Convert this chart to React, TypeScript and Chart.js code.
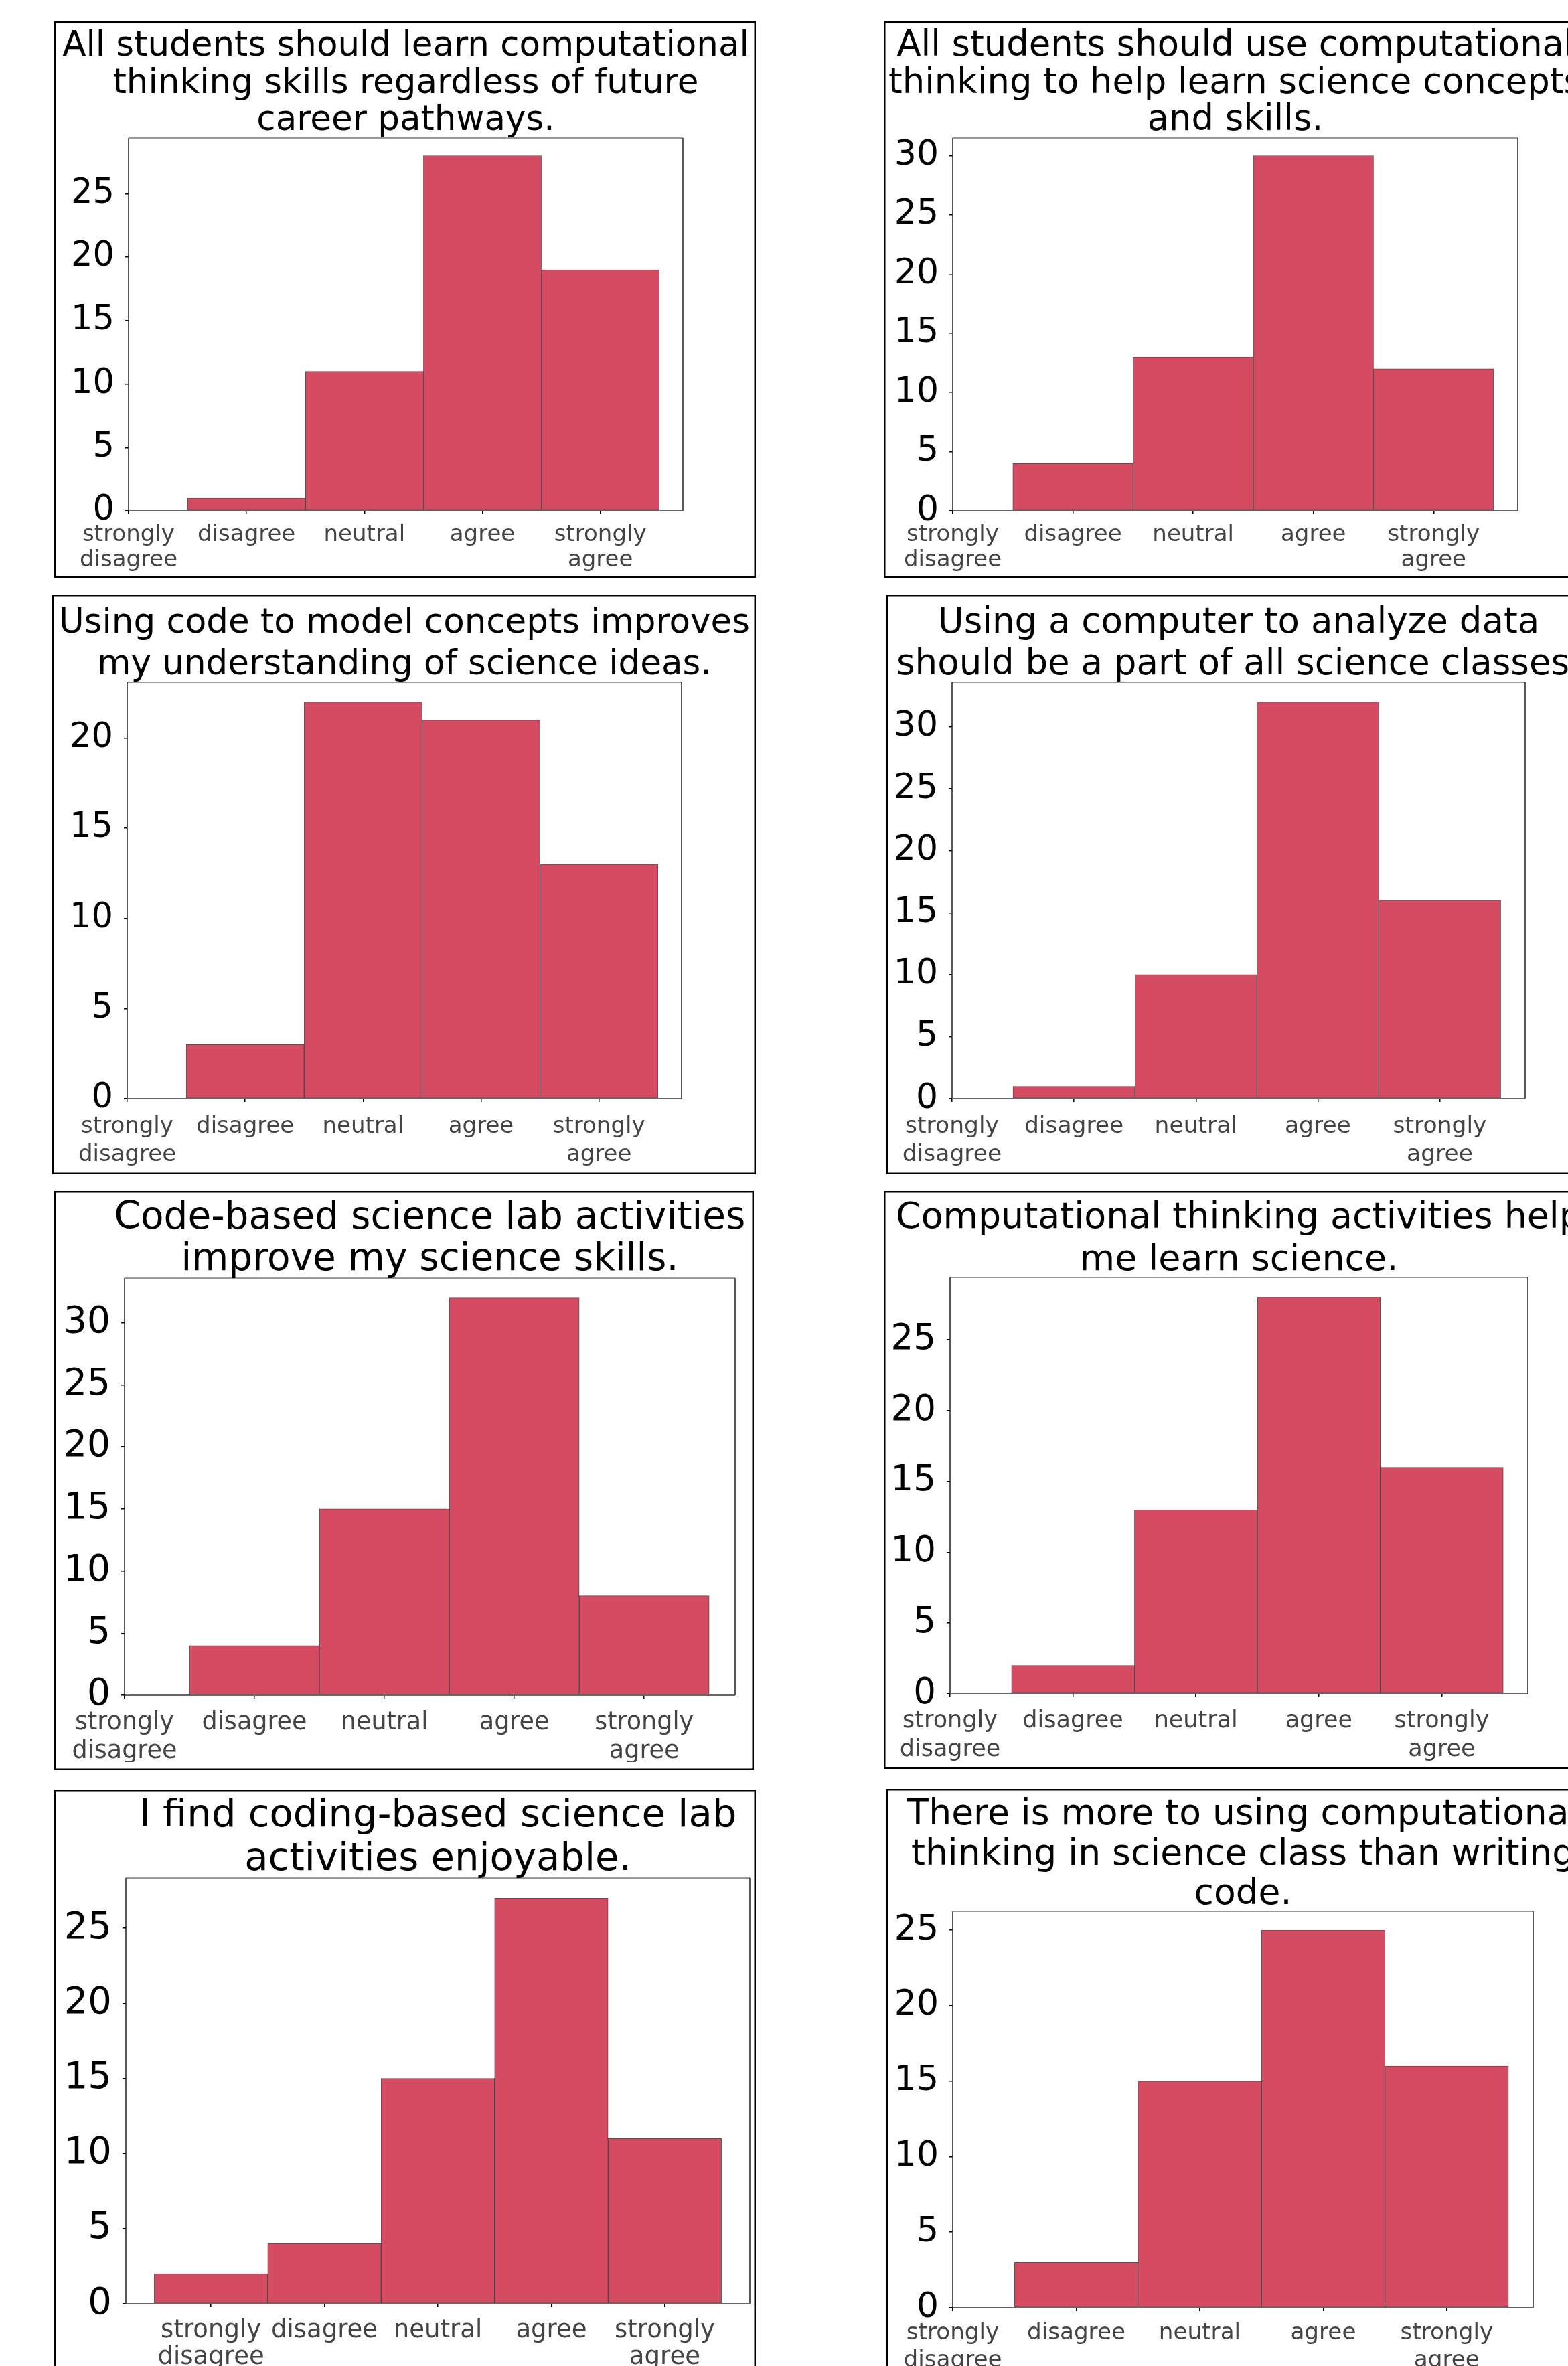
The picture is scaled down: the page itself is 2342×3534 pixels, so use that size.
import React, { useEffect, useRef } from "react";
import { Chart, registerables } from "chart.js";

Chart.register(...registerables);

// ---------- data ----------
const tickLabels: string[][] = [
  ["strongly", "disagree"],
  ["disagree"],
  ["neutral"],
  ["agree"],
  ["strongly", "agree"],
];

const title1 = ["All students should learn computational", "thinking skills regardless of future", "career pathways."];
const values1 = [0, 1, 11, 28, 19];

const title2 = ["All students should use computational", "thinking to help learn science concepts", "and skills."];
const values2 = [0, 4, 13, 30, 12];

const title3 = ["Using code to model concepts improves", "my understanding of science ideas."];
const values3 = [0, 3, 22, 21, 13];

const title4 = ["Using a computer to analyze data", "should be a part of all science classes."];
const values4 = [0, 1, 10, 32, 16];

const title5 = ["Code-based science lab activities", "improve my science skills."];
const values5 = [0, 4, 15, 32, 8];

const title6 = ["Computational thinking activities help", "me learn science."];
const values6 = [0, 2, 13, 28, 16];

const title7 = ["I find coding-based science lab", "activities enjoyable."];
const values7 = [2, 4, 15, 27, 11];

const title8 = ["There is more to using computational", "thinking in science class than writing", "code."];
const values8 = [0, 3, 15, 25, 16];

// ---------- layout (page pixels) ----------
type Layout = {
  box: number[]; // l, t, r, b
  plot: number[]; // l, t, r, b
  titleBase: number[];
  titleSize: number;
  yFont: number;
  xFont: number;
  xLine: number;
  xPad: number;
  xMin: number;
  xMax: number;
};

const panels: { title: string[]; values: number[]; layout: Layout }[] = [
  { title: title1, values: values1, layout: { box: [81, 32, 1129, 863], plot: [192, 206, 1020, 763], titleBase: [83, 139, 194], titleSize: 51.5, yFont: 51, xFont: 34, xLine: 38, xPad: 12.5, xMin: 0, xMax: 4.7 } },
  { title: title2, values: values2, layout: { box: [1320, 32, 2372, 863], plot: [1423, 206, 2267, 763], titleBase: [83, 139, 194], titleSize: 52.8, yFont: 52, xFont: 34, xLine: 38, xPad: 12.5, xMin: 0, xMax: 4.7 } },
  { title: title3, values: values3, layout: { box: [78, 888, 1129, 1754], plot: [190, 1019, 1018, 1641], titleBase: [945, 1007], titleSize: 51.5, yFont: 51, xFont: 34, xLine: 42, xPad: 16, xMin: 0, xMax: 4.7 } },
  { title: title4, values: values4, layout: { box: [1324, 888, 2375, 1754], plot: [1422, 1019, 2278, 1641], titleBase: [945, 1007], titleSize: 53, yFont: 52, xFont: 34.5, xLine: 42, xPad: 16, xMin: 0, xMax: 4.7 } },
  { title: title5, values: values5, layout: { box: [81, 1779, 1126, 2644], plot: [186, 1909, 1098, 2532], titleBase: [1835, 1897], titleSize: 56.5, yFont: 55, xFont: 36.5, xLine: 43, xPad: 15, xMin: 0, xMax: 4.7 } },
  { title: title6, values: values6, layout: { box: [1320, 1779, 2375, 2642], plot: [1419, 1908, 2282, 2530], titleBase: [1834, 1897], titleSize: 53.8, yFont: 53, xFont: 35, xLine: 43, xPad: 14, xMin: 0, xMax: 4.7 } },
  { title: title7, values: values7, layout: { box: [81, 2673, 1129, 3570], plot: [188, 2805, 1120, 3441], titleBase: [2728, 2793], titleSize: 57.7, yFont: 56, xFont: 37, xLine: 40, xPad: 15, xMin: -0.75, xMax: 4.75 } },
  { title: title8, values: values8, layout: { box: [1324, 2672, 2375, 3570], plot: [1423, 2855, 2290, 3447], titleBase: [2725, 2785, 2844], titleSize: 53.5, yFont: 52, xFont: 34.2, xLine: 41, xPad: 12.5, xMin: 0, xMax: 4.7 } },
];

const FONT = '"DejaVu Sans", "Noto Sans", sans-serif';
const Y_AXIS_W = 90;
const X_AXIS_H = 100;
const TICK_LEN = 5;

const decorPlugin = {
  id: "decor",
  afterDraw(chart: any, _args: any, opts: any) {
    const { ctx, chartArea: a, width, height } = chart;
    ctx.save();
    // spines
    ctx.lineWidth = 1.5;
    ctx.strokeStyle = "#777";
    ctx.beginPath();
    ctx.moveTo(a.left, a.top);
    ctx.lineTo(a.right, a.top);
    ctx.stroke();
    ctx.strokeStyle = "#222";
    ctx.beginPath();
    ctx.moveTo(a.left, a.top);
    ctx.lineTo(a.left, a.bottom);
    ctx.moveTo(a.right, a.top);
    ctx.lineTo(a.right, a.bottom);
    ctx.stroke();
    ctx.lineWidth = 2;
    ctx.strokeStyle = "#666";
    ctx.beginPath();
    ctx.moveTo(a.left, a.bottom);
    ctx.lineTo(a.right, a.bottom);
    ctx.stroke();
    // outer box
    ctx.lineWidth = 2.5;
    ctx.strokeStyle = "#000";
    ctx.strokeRect(1.25, 1.25, width - 2.5, height - 2.5);
    // title
    ctx.fillStyle = "#000";
    ctx.font = `${opts.size}px ${FONT}`;
    ctx.textAlign = "center";
    ctx.textBaseline = "alphabetic";
    const cx = (a.left + a.right) / 2;
    (opts.lines as string[]).forEach((s, i) => ctx.fillText(s, cx, opts.base[i]));
    ctx.restore();
  },
};

function Panel({ title, values, layout }: { title: string[]; values: number[]; layout: Layout }) {
  const ref = useRef<HTMLCanvasElement | null>(null);
  const [bl, bt, br, bb] = layout.box;
  const [pl, pt, pr, pb] = layout.plot;
  const W = br - bl;
  const H = bb - bt;

  useEffect(() => {
    if (!ref.current) return;
    const yMax = Math.max(...values) * 1.05;
    const chart = new Chart(ref.current, {
      type: "bar",
      data: {
        datasets: [
          {
            data: values.map((v, i) => ({ x: i, y: v })),
            backgroundColor: "#d54b62",
            borderColor: "rgba(40,40,40,0.8)",
            borderWidth: 1,
            borderSkipped: false,
            barPercentage: 1,
            categoryPercentage: 1,
          } as any,
        ],
      },
      options: {
        animation: false,
        responsive: false,
        maintainAspectRatio: false,
        devicePixelRatio: 1,
        layout: {
          autoPadding: false,
          padding: {
            left: pl - bl - Y_AXIS_W,
            top: pt - bt,
            right: br - pr,
            bottom: bb - pb - X_AXIS_H,
          },
        },
        plugins: {
          legend: { display: false },
          tooltip: { enabled: false },
          title: { display: false },
          decor: {
            lines: title,
            base: layout.titleBase.map((b) => b - bt),
            size: layout.titleSize,
          },
        } as any,
        scales: {
          x: {
            type: "linear",
            min: layout.xMin,
            max: layout.xMax,
            offset: false,
            grid: {
              display: true,
              drawOnChartArea: false,
              drawTicks: true,
              tickLength: TICK_LEN,
              color: "#000",
              lineWidth: 1.5,
              offset: false,
            },
            border: { display: false },
            afterBuildTicks: (s: any) => {
              s.ticks = [0, 1, 2, 3, 4].map((v) => ({ value: v }));
            },
            afterFit: (s: any) => {
              s.height = X_AXIS_H;
            },
            ticks: {
              stepSize: 1,
              includeBounds: false,
              autoSkip: false,
              maxRotation: 0,
              minRotation: 0,
              padding: layout.xPad,
              color: "#444",
              font: { family: FONT, size: layout.xFont, lineHeight: layout.xLine / layout.xFont },
              callback: (v: any) => tickLabels[Math.round(Number(v))] ?? "",
            },
          },
          y: {
            type: "linear",
            min: 0,
            max: yMax,
            grid: {
              display: true,
              drawOnChartArea: false,
              drawTicks: true,
              tickLength: TICK_LEN,
              color: "#000",
              lineWidth: 1.5,
            },
            border: { display: false },
            afterBuildTicks: (s: any) => {
              s.ticks = s.ticks.filter((t: any) => t.value % 5 === 0 && t.value <= yMax);
            },
            afterFit: (s: any) => {
              s.width = Y_AXIS_W;
            },
            ticks: {
              stepSize: 5,
              includeBounds: false,
              padding: 16,
              color: "#000",
              font: { family: FONT, size: layout.yFont, lineHeight: 1 },
              callback: (v: any) => String(v),
            },
          },
        },
      } as any,
      plugins: [decorPlugin as any],
    });
    return () => chart.destroy();
  }, []);

  return (
    <canvas
      ref={ref}
      width={W}
      height={H}
      style={{ position: "absolute", left: bl, top: bt, width: W, height: H, display: "block" }}
    />
  );
}

export default function App() {
  useEffect(() => {
    document.body.style.margin = "0";
    document.body.style.background = "#fff";
  }, []);
  return (
    <div style={{ position: "relative", width: 2342, height: 3534, overflow: "hidden", background: "#fff" }}>
      {panels.map((p, i) => (
        <Panel key={i} title={p.title} values={p.values} layout={p.layout} />
      ))}
    </div>
  );
}
